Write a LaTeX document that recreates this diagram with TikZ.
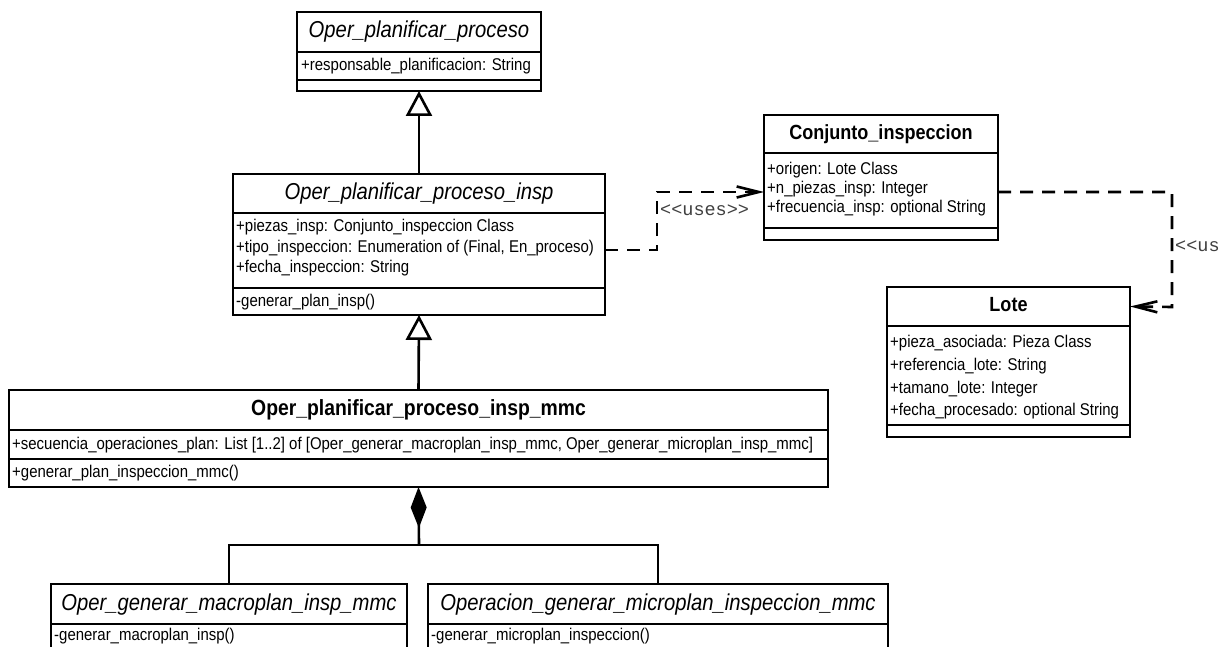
\documentclass[tikz,border=0pt]{standalone}
\usepackage{fontspec}
\setmainfont{Liberation Sans}[FakeStretch=0.88]
\newfontfamily\stereofont{Liberation Mono}
\usetikzlibrary{arrows.meta}
\tikzset{
  classframe/.style={draw, line width=2.7pt, inner sep=0pt, outer sep=0pt, anchor=north west},
  compartment/.style={line width=2.5pt},
  nameit/.style={inner sep=0pt, font=\fontsize{23}{26}\selectfont\itshape, text height=17pt, text depth=5pt},
  namebf/.style={inner sep=0pt, font=\fontsize{22}{26}\selectfont\bfseries, text height=16pt, text depth=5pt},
  namebfs/.style={inner sep=0pt, font=\fontsize{20.5}{24}\selectfont\bfseries, text height=15pt, text depth=4.5pt},
  member/.style={inner sep=0pt, anchor=west, font=\fontsize{17}{20}\selectfont, text height=12pt, text depth=3.5pt},
  inherit/.style={line width=2.6pt, -{Triangle[open, length=25pt, width=26pt, fill=white]}},
  compose/.style={line width=2.6pt, {Diamond[length=41pt, width=16pt]}-},
  link/.style={line width=2.6pt},
  depends/.style={line width=2.6pt, dash pattern=on 13pt off 9pt, -{Straight Barb[length=22pt, width=11pt]}},
  stereo/.style={inner sep=0pt, anchor=west, text=black!75, font=\stereofont\fontsize{18.5}{20}\selectfont},
}
% class box: name, x1, y1, x2, y2, first and second compartment lines
\newcommand\classbox[7]{%
  \pgfmathsetmacro\cbW{#4-#2}\pgfmathsetmacro\cbH{#5-#3}%
  \node[classframe, minimum width=\cbW pt, minimum height=\cbH pt] (#1) at (#2,#3) {};
  \draw[compartment] (#2,#6) -- (#4,#6);
  \draw[compartment] (#2,#7) -- (#4,#7);
}
\begin{document}
\begin{tikzpicture}[x=1pt,y=-1pt]
\useasboundingbox (0,0) rectangle (1225,647);
\clip (0,0) rectangle (1225,647);

% Oper_planificar_proceso
\classbox{b1}{297}{12}{541}{91}{52}{80}
\node[nameit] (b1n) at (419,32) {Oper\_planificar\_proceso};
\node[member] (b1a) at (301,66) {+responsable\_planificacion: String};

% Oper_planificar_proceso_insp
\classbox{b2}{233}{174}{605}{315}{213}{288}
\node[nameit] (b2n) at (419,193.5) {Oper\_planificar\_proceso\_insp};
\node[member] (b2a) at (236,227) {+piezas\_insp: Conjunto\_inspeccion Class};
\node[member] (b2b) at (236,248) {+tipo\_inspeccion: Enumeration of (Final, En\_proceso)};
\node[member] (b2c) at (236,268) {+fecha\_inspeccion: String};
\node[member] (b2o) at (236,302) {-generar\_plan\_insp()};

% Oper_planificar_proceso_insp_mmc
\classbox{b3}{9}{390}{828}{487}{430}{459}
\node[namebf] (b3n) at (418.5,410) {Oper\_planificar\_proceso\_insp\_mmc};
\node[member] (b3a) at (12,445) {+secuencia\_operaciones\_plan: List [1..2] of [Oper\_generar\_macroplan\_insp\_mmc, Oper\_generar\_microplan\_insp\_mmc]};
\node[member] (b3o) at (12,473) {+generar\_plan\_inspeccion\_mmc()};

% Conjunto_inspeccion
\classbox{b4}{764}{115}{998}{240}{153}{228}
\node[namebfs] (b4n) at (881,134) {Conjunto\_inspeccion};
\node[member] (b4a) at (767,170) {+origen: Lote Class};
\node[member] (b4b) at (767,189) {+n\_piezas\_insp: Integer};
\node[member] (b4c) at (767,208) {+frecuencia\_insp: optional String};

% Lote
\classbox{b5}{887}{287}{1130}{437}{326}{425}
\node[namebfs] (b5n) at (1008.5,306.5) {Lote};
\node[member] (b5a) at (890,343) {+pieza\_asociada: Pieza Class};
\node[member] (b5b) at (890,366) {+referencia\_lote: String};
\node[member] (b5c) at (890,389) {+tamano\_lote: Integer};
\node[member] (b5d) at (890,411) {+fecha\_procesado: optional String};

% the two planning operations
\classbox{m1}{51}{584}{407}{675}{624}{662}
\node[nameit] (m1n) at (229,604) {Oper\_generar\_macroplan\_insp\_mmc};
\node[member] (m1o) at (54,636) {-generar\_macroplan\_insp()};
\classbox{m2}{428}{584}{888}{675}{624}{662}
\node[nameit] (m2n) at (658,604) {Operacion\_generar\_microplan\_inspeccion\_mmc};
\node[member] (m2o) at (431,636) {-generar\_microplan\_inspeccion()};

% generalisations
\draw[inherit] (b2.north) -- (b1.south);
\draw[inherit] (b3.north) -- (b2.south);

% composition
\coordinate (jn) at (419,545);
\draw[compose] (b3.south) -- (jn);
\draw[link] (m1.north) |- (jn) -| (m2.north);

% dependencies
\coordinate (u1) at (657,192);
\coordinate (u2) at (1172,307);
\draw[depends] ([yshift=-5.5pt]b2.east) -| (u1) -- ([yshift=-14.5pt]b4.west);
\draw[depends] ([yshift=-14.5pt]b4.east) -| (u2) -- ([yshift=55.5pt]b5.east);
\node[stereo] (s1) at (660,210) {<<uses>>};
\node[stereo] (s2) at (1175,246) {<<us};
\end{tikzpicture}
\end{document}
